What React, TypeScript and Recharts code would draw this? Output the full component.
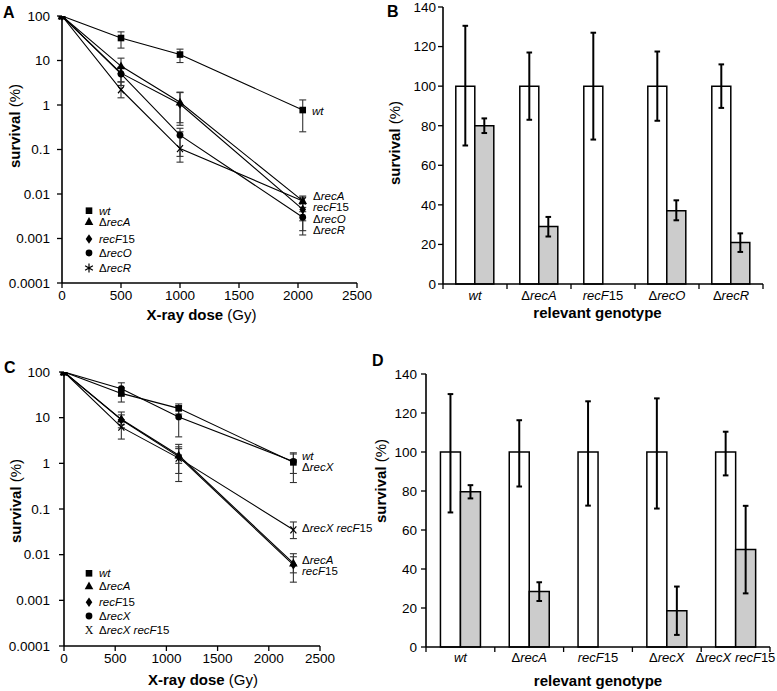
import React from 'react';
import { LineChart, Line, XAxis, YAxis, ErrorBar, BarChart, Bar } from 'recharts';

const FONT = '"Liberation Sans", Arial, Helvetica, sans-serif';
const GRAY = '#cccccc';

// ---- Panel A: survival vs X-ray dose (log scale) ----
const doseA = [0, 500, 1000, 2040];
const wtA = [100, 32, 13.6, 0.77];
const wtA_lo = [100, 19, 9, 0.25];
const wtA_hi = [100, 44, 18, 1.3];
const recA_A = [100, 7.5, 1.15, 0.007];
const recA_A_lo = [100, 5, 0.4, 0.005];
const recA_A_hi = [100, 11.3, 1.95, 0.009];
const recF_A = [100, 5.2, 1.05, 0.0045];
const recF_A_lo = [100, 3.3, 0.35, 0.0025];
const recF_A_hi = [100, 7, 1.9, 0.006];
const recO_A = [100, 5, 0.21, 0.003];
const recO_A_lo = [100, 2.75, 0.07, 0.0015];
const recO_A_hi = [100, 7, 0.3, 0.004];
const recR_A = [100, 2.2, 0.105, 0.007];
const recR_A_lo = [100, 1.45, 0.052, 0.0012];
const recR_A_hi = [100, 3.3, 0.25, 0.0085];

// ---- Panel C ----
const doseC = [0, 560, 1120, 2240];
const wtC = [100, 34, 16, 1.05];
const wtC_lo = [100, 22, 12, 0.6];
const wtC_hi = [100, 45, 20, 1.7];
const recA_C = [100, 9.2, 1.5, 0.0065];
const recA_C_lo = [100, 6, 0.4, 0.0025];
const recA_C_hi = [100, 13.3, 2.6, 0.0105];
const recF_C = [100, 9, 1.4, 0.006];
const recF_C_lo = [100, 7, 0.6, 0.004];
const recF_C_hi = [100, 11.5, 2.3, 0.009];
const recX_C = [100, 43, 10.4, 1.1];
const recX_C_lo = [100, 30, 3.8, 0.38];
const recX_C_hi = [100, 58, 18, 1.6];
const recXF_C = [100, 6.2, 1.3, 0.035];
const recXF_C_lo = [100, 3.4, 1.0, 0.0225];
const recXF_C_hi = [100, 9, 2.1, 0.052];

const doseTicks = [0, 500, 1000, 1500, 2000, 2500];
const logTicks = [0.0001, 0.001, 0.01, 0.1, 1, 10, 100];

// ---- Panel B ----
const genoB = ['wt', 'ΔrecA', 'recF15', 'ΔrecO', 'ΔrecR'];
const ctrlB = [100, 100, 100, 100, 100];
const ctrlB_lo = [70, 83, 73, 82.5, 89];
const ctrlB_hi = [130.5, 117, 127, 117.5, 111];
const treatB = [80, 29, null, 37, 21];
const treatB_lo = [76.3, 24, null, 32.2, 16.2];
const treatB_hi = [83.7, 33.9, null, 42.3, 25.6];

// ---- Panel D ----
const genoD = ['wt', 'ΔrecA', 'recF15', 'ΔrecX', 'ΔrecX recF15'];
const ctrlD = [100, 100, 100, 100, 100];
const ctrlD_lo = [69, 82.3, 72.5, 71, 88];
const ctrlD_hi = [129.7, 116.3, 126, 127.5, 110.4];
const treatD = [79.6, 28.4, null, 18.6, 50];
const treatD_lo = [76.2, 23.6, null, 6.2, 27.5];
const treatD_hi = [83, 33.2, null, 31, 72.4];

const pctTicks = [0, 20, 40, 60, 80, 100, 120, 140];

type Kind = 'square' | 'triangle' | 'diamond' | 'circle' | 'cross' | 'star';

const seriesA = [
  { key: 'wt', marker: 'square' as Kind, y: wtA, lo: wtA_lo, hi: wtA_hi },
  { key: 'recA', marker: 'triangle' as Kind, y: recA_A, lo: recA_A_lo, hi: recA_A_hi },
  { key: 'recF', marker: 'diamond' as Kind, y: recF_A, lo: recF_A_lo, hi: recF_A_hi },
  { key: 'recO', marker: 'circle' as Kind, y: recO_A, lo: recO_A_lo, hi: recO_A_hi },
  { key: 'recR', marker: 'cross' as Kind, y: recR_A, lo: recR_A_lo, hi: recR_A_hi },
];

const seriesC = [
  { key: 'wt', marker: 'square' as Kind, y: wtC, lo: wtC_lo, hi: wtC_hi },
  { key: 'recA', marker: 'triangle' as Kind, y: recA_C, lo: recA_C_lo, hi: recA_C_hi },
  { key: 'recF', marker: 'diamond' as Kind, y: recF_C, lo: recF_C_lo, hi: recF_C_hi },
  { key: 'recX', marker: 'circle' as Kind, y: recX_C, lo: recX_C_lo, hi: recX_C_hi },
  { key: 'recXF', marker: 'cross' as Kind, y: recXF_C, lo: recXF_C_lo, hi: recXF_C_hi },
];

function errOf(v: number | null, lo: number | null, hi: number | null) {
  if (v == null || lo == null || hi == null) return null;
  if (v - lo === 0 && hi - v === 0) return null;
  return [v - lo, hi - v];
}

function buildCurveRows(doses: number[], series: typeof seriesA) {
  return doses.map((d, i) => {
    const row: any = { dose: d };
    series.forEach((s) => {
      row[s.key] = s.y[i];
      row[s.key + 'Err'] = errOf(s.y[i], s.lo[i], s.hi[i]);
    });
    return row;
  });
}

function buildBarRows(geno: string[], ctrl: any[], cLo: any[], cHi: any[], treat: any[], tLo: any[], tHi: any[]) {
  return geno.map((g, i) => ({
    name: g,
    ctrl: ctrl[i],
    ctrlErr: errOf(ctrl[i], cLo[i], cHi[i]),
    treat: treat[i],
    treatErr: errOf(treat[i], tLo[i], tHi[i]),
  }));
}

const rowsA = buildCurveRows(doseA, seriesA);
const rowsC = buildCurveRows(doseC, seriesC);
const rowsB = buildBarRows(genoB, ctrlB, ctrlB_lo, ctrlB_hi, treatB, treatB_lo, treatB_hi);
const rowsD = buildBarRows(genoD, ctrlD, ctrlD_lo, ctrlD_hi, treatD, treatD_lo, treatD_hi);

function Marker({ cx, cy, kind }: { cx: number; cy: number; kind: Kind }) {
  if (cx == null || cy == null) return null;
  switch (kind) {
    case 'square':
      return <rect x={cx - 3.3} y={cy - 3.3} width={6.6} height={6.6} fill="#000" />;
    case 'triangle':
      return <polygon points={`${cx},${cy - 4.6} ${cx + 4.3},${cy + 3.2} ${cx - 4.3},${cy + 3.2}`} fill="#000" />;
    case 'diamond':
      return <polygon points={`${cx},${cy - 4.8} ${cx + 3.3},${cy} ${cx},${cy + 4.8} ${cx - 3.3},${cy}`} fill="#000" />;
    case 'circle':
      return <circle cx={cx} cy={cy} r={3.4} fill="#000" />;
    case 'cross':
      return (
        <path
          d={`M${cx - 3},${cy - 3.5}L${cx + 3},${cy + 3.5}M${cx + 3},${cy - 3.5}L${cx - 3},${cy + 3.5}`}
          stroke="#000"
          strokeWidth={1.2}
          fill="none"
        />
      );
    case 'star':
      return (
        <path
          d={`M${cx},${cy - 4.5}L${cx},${cy + 4.5}M${cx - 3.9},${cy - 2.3}L${cx + 3.9},${cy + 2.3}M${cx + 3.9},${cy - 2.3}L${cx - 3.9},${cy + 2.3}`}
          stroke="#000"
          strokeWidth={1.2}
          fill="none"
        />
      );
  }
  return null;
}

// genotype names: Δ and digits upright, gene letters italic
function geno(name: string) {
  const parts = name.match(/Δ|\d+|[A-Za-z]+|\s+/g) || [];
  return parts.map((p, i) => (
    <tspan key={i} fontStyle={/^[A-Za-z]+$/.test(p) ? 'italic' : 'normal'}>
      {p}
    </tspan>
  ));
}

const axisLine = { stroke: '#000', strokeWidth: 1.6 };
const tickLine = { stroke: '#000', strokeWidth: 1.3 };
const tickFont = { fill: '#000', fontSize: 13.5, fontFamily: FONT };

function CurvePanel({ rows, series, left, top, width, height, margin, yTickMargin }: any) {
  return (
    <div style={{ position: 'absolute', left, top }}>
      <LineChart width={width} height={height} data={rows} margin={margin}>
        <XAxis
          dataKey="dose"
          type="number"
          domain={[0, 2500]}
          ticks={doseTicks}
          height={30}
          axisLine={axisLine}
          tickLine={tickLine}
          tickSize={5}
          tick={tickFont}
          interval={0}
        />
        <YAxis
          type="number"
          scale="log"
          domain={[0.0001, 100]}
          allowDataOverflow
          ticks={logTicks}
          width={50}
          axisLine={axisLine}
          tickLine={tickLine}
          tickSize={5}
          tickMargin={yTickMargin}
          tick={tickFont}
          interval={0}
          tickFormatter={(v: number) => String(v)}
        />
        {series.map((s: any) => (
          <Line
            key={s.key}
            dataKey={s.key}
            type="linear"
            stroke="#000"
            strokeWidth={1.1}
            isAnimationActive={false}
            dot={(p: any) => <Marker key={`${s.key}-${p.index}`} cx={p.cx} cy={p.cy} kind={s.marker} />}
            activeDot={false}
          >
            <ErrorBar dataKey={s.key + 'Err'} width={3.5} stroke="#333" strokeWidth={1.1} direction="y" />
          </Line>
        ))}
      </LineChart>
    </div>
  );
}

function BarPanel({ rows, cats, left, top, width, height, margin, yWidth, gap, yTickMargin, labelDy }: any) {
  const plotW = width - margin.left - margin.right - yWidth;
  const band = plotW / cats.length;
  const axisY = height - margin.bottom - 30;
  const GenoTick = (props: any) => {
    const { x, payload } = props;
    const idx = cats.indexOf(payload.value);
    return (
      <g>
        <line x1={x - band / 2} x2={x - band / 2} y1={axisY} y2={axisY + 5} stroke="#000" strokeWidth={1.3} />
        {idx === cats.length - 1 && (
          <line x1={x + band / 2} x2={x + band / 2} y1={axisY} y2={axisY + 5} stroke="#000" strokeWidth={1.3} />
        )}
        <text x={x} y={axisY + labelDy} textAnchor="middle" fontSize={13} fill="#000" fontFamily={FONT}>
          {geno(payload.value)}
        </text>
      </g>
    );
  };
  return (
    <div style={{ position: 'absolute', left, top }}>
      <BarChart width={width} height={height} data={rows} margin={margin} barGap={0} barCategoryGap={gap}>
        <XAxis dataKey="name" height={30} axisLine={axisLine} tickLine={false} tick={GenoTick} interval={0} />
        <YAxis
          type="number"
          domain={[0, 140]}
          ticks={pctTicks}
          width={yWidth}
          axisLine={axisLine}
          tickLine={tickLine}
          tickSize={5}
          tickMargin={yTickMargin}
          tick={tickFont}
          interval={0}
        />
        <Bar dataKey="ctrl" fill="#fff" stroke="#000" strokeWidth={1.5} isAnimationActive={false}>
          <ErrorBar dataKey="ctrlErr" width={2.8} stroke="#000" strokeWidth={2} direction="y" />
        </Bar>
        <Bar dataKey="treat" fill={GRAY} stroke="#000" strokeWidth={1.5} isAnimationActive={false}>
          <ErrorBar dataKey="treatErr" width={2.8} stroke="#000" strokeWidth={2} direction="y" />
        </Bar>
      </BarChart>
    </div>
  );
}

function YTitle({ x, y }: { x: number; y: number }) {
  return (
    <text x={x} y={y} transform={`rotate(-90 ${x} ${y})`} textAnchor="middle" fontSize={15} fontFamily={FONT}>
      <tspan fontWeight="bold">survival</tspan>
      <tspan> (%)</tspan>
    </text>
  );
}

function Legend({ items, x, ys }: { items: { name: string; kind: Kind }[]; x: number; ys: number[] }) {
  return (
    <g>
      {items.map((it, i) => (
        <g key={it.name}>
          {it.kind === 'cross' && it.name.includes(' ') ? (
            <text x={x} y={ys[i] + 4} textAnchor="middle" fontSize={12} fontFamily='"Liberation Serif", serif'>
              X
            </text>
          ) : (
            <Marker cx={x} cy={ys[i]} kind={it.kind} />
          )}
          <text x={x + 10} y={ys[i] + 4} fontSize={11.5} fontFamily={FONT}>
            {geno(it.name)}
          </text>
        </g>
      ))}
    </g>
  );
}

const legendA = [
  { name: 'wt', kind: 'square' as Kind },
  { name: 'ΔrecA', kind: 'triangle' as Kind },
  { name: 'recF15', kind: 'diamond' as Kind },
  { name: 'ΔrecO', kind: 'circle' as Kind },
  { name: 'ΔrecR', kind: 'star' as Kind },
];
const legendC = [
  { name: 'wt', kind: 'square' as Kind },
  { name: 'ΔrecA', kind: 'triangle' as Kind },
  { name: 'recF15', kind: 'diamond' as Kind },
  { name: 'ΔrecX', kind: 'circle' as Kind },
  { name: 'ΔrecX recF15', kind: 'cross' as Kind },
];

export default function App() {
  return (
    <div style={{ position: 'absolute', left: 0, top: 0, width: 777, height: 691, background: '#fff', fontFamily: FONT }}>
      <CurvePanel
        rows={rowsA}
        series={seriesA}
        left={0}
        top={0}
        width={390}
        height={340}
        margin={{ top: 16, right: 33, bottom: 27, left: 12 }}
        yTickMargin={7}
      />
      <CurvePanel
        rows={rowsC}
        series={seriesC}
        left={0}
        top={340}
        width={390}
        height={351}
        margin={{ top: 32, right: 70, bottom: 15, left: 14 }}
        yTickMargin={9}
      />
      <BarPanel
        rows={rowsB}
        cats={genoB}
        left={390}
        top={0}
        width={387}
        height={340}
        margin={{ top: 7, right: 14, bottom: 26, left: 13 }}
        yWidth={40}
        gap="20%"
        yTickMargin={2}
        labelDy={16}
      />
      <BarPanel
        rows={rowsD}
        cats={genoD}
        left={390}
        top={340}
        width={387}
        height={351}
        margin={{ top: 34, right: 7, bottom: 14, left: 6 }}
        yWidth={30}
        gap="21%"
        yTickMargin={4}
        labelDy={15}
      />
      <svg width={777} height={691} style={{ position: 'absolute', left: 0, top: 0, pointerEvents: 'none' }}>
        {/* panel letters */}
        <g fontFamily={FONT} fontWeight="bold" fontSize={16}>
          <text x={3} y={18}>A</text>
          <text x={387} y={17}>B</text>
          <text x={4} y={373}>C</text>
          <text x={372} y={366}>D</text>
        </g>
        {/* axis titles */}
        <YTitle x={20} y={126} />
        <YTitle x={400} y={143} />
        <YTitle x={21} y={501} />
        <YTitle x={385.5} y={481} />
        <text x={201.5} y={319.5} textAnchor="middle" fontSize={15} fontFamily={FONT}>
          <tspan fontWeight="bold">X-ray dose</tspan>
          <tspan> (Gy)</tspan>
        </text>
        <text x={203} y={685} textAnchor="middle" fontSize={15} fontFamily={FONT}>
          <tspan fontWeight="bold">X-ray dose</tspan>
          <tspan> (Gy)</tspan>
        </text>
        <text x={597.5} y={318} textAnchor="middle" fontSize={15} fontWeight="bold" fontFamily={FONT}>
          relevant genotype
        </text>
        <text x={598} y={686} textAnchor="middle" fontSize={15} fontWeight="bold" fontFamily={FONT}>
          relevant genotype
        </text>
        {/* legends */}
        <Legend items={legendA} x={89} ys={[210.7, 221.7, 239, 253, 268]} />
        <Legend items={legendC} x={89} ys={[573.3, 586, 602.3, 616, 630]} />
        {/* curve end labels */}
        <g fontSize={11.5} fontFamily={FONT}>
          <text x={312} y={115}>{geno('wt')}</text>
          <text x={313} y={200}>{geno('ΔrecA')}</text>
          <text x={313} y={211}>{geno('recF15')}</text>
          <text x={313} y={222.5}>{geno('ΔrecO')}</text>
          <text x={313} y={233.5}>{geno('ΔrecR')}</text>
          <text x={302} y={460}>{geno('wt')}</text>
          <text x={302} y={471}>{geno('ΔrecX')}</text>
          <text x={302} y={532}>{geno('ΔrecX recF15')}</text>
          <text x={302} y={563.5}>{geno('ΔrecA')}</text>
          <text x={302} y={574.5}>{geno('recF15')}</text>
        </g>
      </svg>
    </div>
  );
}
